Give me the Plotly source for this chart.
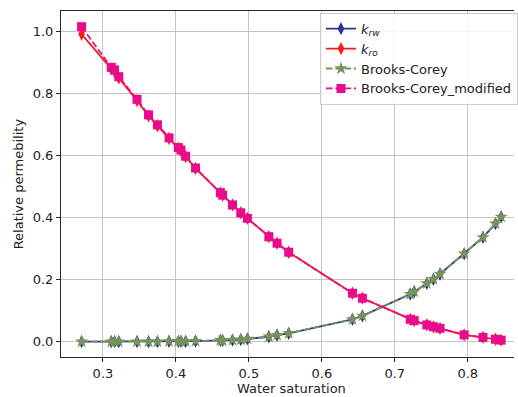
import plotly.graph_objects as go

# Water saturation at each measurement point
sw = [0.2707, 0.3114, 0.3159, 0.3217, 0.3467, 0.3625, 0.3747, 0.3906, 0.4033, 0.4069,
      0.4133, 0.4269, 0.4609, 0.4640, 0.4776, 0.4889, 0.4980, 0.5274, 0.5387, 0.5546,
      0.6420, 0.6556, 0.7212, 0.7266, 0.7439, 0.7530, 0.7620, 0.7951, 0.8209, 0.8380,
      0.8458]

# Measured water relative permeability
krw = [0.000, 0.000, 0.000, 0.000, 0.000, 0.000, 0.000, 0.001, 0.001, 0.001,
       0.001, 0.002, 0.004, 0.004, 0.005, 0.007, 0.009, 0.016, 0.021, 0.027,
       0.072, 0.083, 0.153, 0.161, 0.188, 0.201, 0.218, 0.283, 0.336, 0.380,
       0.402]

# Measured oil relative permeability
kro = [0.990, 0.878, 0.870, 0.849, 0.776, 0.727, 0.695, 0.654, 0.623, 0.615,
       0.596, 0.558, 0.479, 0.471, 0.440, 0.415, 0.397, 0.338, 0.317, 0.288,
       0.156, 0.140, 0.072, 0.068, 0.054, 0.048, 0.043, 0.022, 0.014, 0.008,
       0.005]

# Brooks-Corey fit (water phase)
bc = [0.000, 0.000, 0.000, 0.000, 0.000, 0.000, 0.000, 0.001, 0.001, 0.001,
      0.001, 0.002, 0.004, 0.004, 0.005, 0.007, 0.009, 0.016, 0.021, 0.027,
      0.072, 0.083, 0.153, 0.161, 0.188, 0.201, 0.218, 0.283, 0.336, 0.380,
      0.402]

# Modified Brooks-Corey fit (oil phase)
bc_mod = [1.014, 0.883, 0.875, 0.853, 0.780, 0.730, 0.698, 0.656, 0.625, 0.617,
          0.597, 0.559, 0.480, 0.472, 0.440, 0.415, 0.397, 0.338, 0.317, 0.288,
          0.156, 0.140, 0.072, 0.068, 0.054, 0.048, 0.043, 0.022, 0.014, 0.008,
          0.005]

x_ticks = [0.3, 0.4, 0.5, 0.6, 0.7, 0.8]
y_ticks = [0.0, 0.2, 0.4, 0.6, 0.8, 1.0]

FONT = "DejaVu Sans"
FS = 13
TXT = "#222222"
DASH = "6.5px,2.8px"

fig = go.Figure()
fig.add_trace(go.Scatter(
    x=sw, y=krw, mode="lines+markers", name="<i>k</i><sub><i>rw</i></sub>",
    line=dict(color="#2e3192", width=1.8),
    marker=dict(symbol="diamond-tall", size=9.5, color="#2e3192")))
fig.add_trace(go.Scatter(
    x=sw, y=kro, mode="lines+markers", name="<i>k</i><sub><i>ro</i></sub>",
    line=dict(color="#ff1a1a", width=1.8),
    marker=dict(symbol="diamond-tall", size=9.5, color="#ff1a1a")))
fig.add_trace(go.Scatter(
    x=sw, y=bc, mode="lines+markers", name="Brooks-Corey",
    line=dict(color="#76935a", width=1.8, dash=DASH),
    marker=dict(symbol="star", size=10, color="#76935a")))
fig.add_trace(go.Scatter(
    x=sw, y=bc_mod, mode="lines+markers", name="Brooks-Corey_modified",
    line=dict(color="#ea0a8c", width=1.8, dash=DASH),
    marker=dict(symbol="square", size=9, color="#ea0a8c")))

axis_common = dict(
    showgrid=True, gridcolor="#c4c4c4", gridwidth=1,
    zeroline=False, showline=True, linecolor="#262626", linewidth=1,
    ticks="outside", ticklen=4, tickwidth=1, tickcolor="#262626",
    tickfont=dict(family=FONT, size=FS, color=TXT),
)

# bottom and top spines on x; left spine only on y
fig.update_xaxes(range=[0.2425, 0.8634], tickvals=x_ticks,
                 ticktext=[f"{v:.1f}" for v in x_ticks], mirror=True,
                 **axis_common)
fig.update_yaxes(range=[-0.0492, 1.0644], tickvals=y_ticks,
                 ticktext=[f"{v:.1f}" for v in y_ticks], mirror=False,
                 **axis_common)

fig.add_annotation(text="Water saturation", xref="paper", yref="paper",
                   x=0.5088, y=-0.0896, xanchor="center", yanchor="middle",
                   showarrow=False, font=dict(family=FONT, size=FS, color=TXT))
fig.add_annotation(text="Relative permebility", xref="paper", yref="paper",
                   x=-0.0941, y=0.5, xanchor="center", yanchor="middle",
                   textangle=-90, showarrow=False,
                   font=dict(family=FONT, size=FS, color=TXT))

fig.update_layout(
    width=518, height=397,
    margin=dict(l=61, r=0, t=11, b=40, pad=0),
    paper_bgcolor="white", plot_bgcolor="white",
    font=dict(family=FONT, size=FS, color=TXT),
    showlegend=True,
    legend=dict(x=0.5718, y=0.995, xanchor="left", yanchor="top",
                bgcolor="rgba(255,255,255,0.85)", bordercolor="#cccccc",
                borderwidth=1, font=dict(family=FONT, size=FS, color=TXT)),
)

fig.write_html("out.html")
